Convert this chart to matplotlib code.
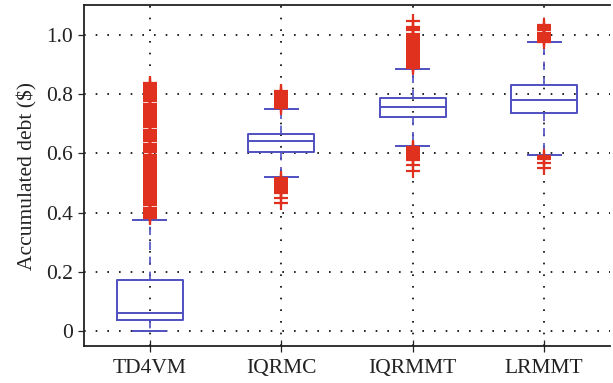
import matplotlib
matplotlib.use("Agg")
import matplotlib.pyplot as plt

categories = ["TD4VM", "IQRMC", "IQRMMT", "LRMMT"]
q1 = [0.037, 0.604, 0.722, 0.737]
medians = [0.063, 0.640, 0.758, 0.780]
q3 = [0.172, 0.664, 0.788, 0.831]
whisker_low = [0.0, 0.521, 0.624, 0.595]
whisker_high = [0.376, 0.751, 0.886, 0.974]

fliers_td4vm = [0.381, 0.386, 0.391, 0.396, 0.401, 0.406, 0.411, 0.416,
                0.426, 0.431, 0.436, 0.441, 0.446, 0.451, 0.456, 0.461, 0.466, 0.471,
                0.476, 0.481, 0.486, 0.491, 0.496, 0.501, 0.506, 0.511, 0.516, 0.521,
                0.526, 0.531, 0.536, 0.541, 0.546, 0.551, 0.556, 0.561, 0.566, 0.571, 0.576,
                0.583, 0.589, 0.595, 0.606, 0.611, 0.616, 0.621, 0.627, 0.633,
                0.641, 0.646, 0.651, 0.656, 0.661, 0.667, 0.673, 0.679,
                0.689, 0.694, 0.699, 0.704, 0.709, 0.713, 0.717, 0.722, 0.727, 0.732, 0.736,
                0.741, 0.747, 0.754, 0.760, 0.766,
                0.778, 0.783, 0.788, 0.793, 0.798, 0.803, 0.808, 0.813, 0.818, 0.823, 0.828,
                0.833, 0.838]
fliers_iqrmc = [0.431, 0.448,
                0.466, 0.471, 0.476, 0.481, 0.486, 0.491, 0.496, 0.501, 0.506, 0.511, 0.516,
                0.754, 0.759, 0.764, 0.769, 0.774, 0.779, 0.784, 0.789,
                0.796, 0.801, 0.806, 0.811]
fliers_iqrmmt = [0.541, 0.561, 0.578,
                 0.583, 0.588, 0.593, 0.598, 0.603, 0.608, 0.613, 0.618, 0.621,
                 0.888, 0.893, 0.898, 0.903, 0.908, 0.913, 0.918, 0.923, 0.928, 0.933,
                 0.938, 0.943, 0.948, 0.953, 0.958, 0.963, 0.968, 0.973, 0.978, 0.983,
                 0.988, 0.993, 0.998, 1.003, 1.016, 1.021, 1.026, 1.048]
fliers_lrmmt = [0.550, 0.566, 0.580, 0.585, 0.591,
                0.976, 0.981, 0.986, 0.991, 0.996, 1.001, 1.006,
                1.016, 1.021, 1.026, 1.034]
fliers = [fliers_td4vm, fliers_iqrmc, fliers_iqrmmt, fliers_lrmmt]

y_ticks = [0, 0.2, 0.4, 0.6, 0.8, 1.0]
y_tick_labels = ["0", "0.2", "0.4", "0.6", "0.8", "1.0"]

blue = "#4f4fc0"
red = "#e0301e"

plt.rcParams['font.family'] = ['Liberation Serif', 'DejaVu Serif']

fig = plt.figure(figsize=(6.13, 3.83), dpi=100)
ax = fig.add_axes([0.137, 0.0966, 0.858, 0.890])

stats = []
for i, name in enumerate(categories):
    stats.append(dict(label=name, med=medians[i], q1=q1[i], q3=q3[i],
                      whislo=whisker_low[i], whishi=whisker_high[i], fliers=fliers[i]))

ax.bxp(stats, positions=[1, 2, 3, 4], widths=0.5, showfliers=True,
       boxprops=dict(color=blue, linewidth=1.4),
       medianprops=dict(color=blue, linewidth=1.4),
       whiskerprops=dict(color=blue, linewidth=1.2, linestyle=(0, (5, 4))),
       capprops=dict(color=blue, linewidth=1.4),
       flierprops=dict(marker='+', markersize=9.4, markeredgecolor=red,
                       markeredgewidth=1.6, linestyle='none'),
       zorder=3)

ax.set_xlim(0.5, 4.5)
ax.set_ylim(-0.05, 1.10)
ax.set_yticks(y_ticks)
ax.set_yticklabels(y_tick_labels)
ax.set_xticks([1, 2, 3, 4])
ax.set_xticklabels(categories)
ax.grid(True, color='black', linestyle=(0, (1, 6)), linewidth=1.2)
ax.set_axisbelow(True)
ax.tick_params(axis='both', labelsize=15.5, colors='#222222', length=5, width=0.9)
ax.tick_params(axis='x', direction='inout', length=8, pad=5)
ax.tick_params(axis='y', direction='out', length=4, pad=4)
for s in ax.spines.values():
    s.set_linewidth(1.3)
    s.set_color('#222222')
ax.spines['right'].set_visible(False)
ax.set_ylabel("Accumulated debt ($)", fontsize=15.5, color='#222222', labelpad=6)

fig.savefig("out.png", dpi=100)
